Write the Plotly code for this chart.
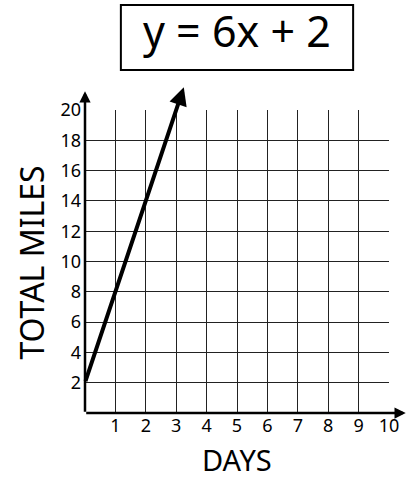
import plotly.graph_objects as go

# Line y = m*x + b, drawn from the y-intercept with an arrow past the top of the grid
slope = 6
intercept = 2
x_start = 0
x_end = 3.25

x_ticks = [1, 2, 3, 4, 5, 6, 7, 8, 9, 10]
y_ticks = [2, 4, 6, 8, 10, 12, 14, 16, 18, 20]

equation_text = "y = 6x + 2"
x_title = "DAYS"
y_title = "TOTAL MILES"

FONT = "Noto Sans"

y_start = slope * x_start + intercept
y_end = slope * x_end + intercept

fig = go.Figure()
# invisible trace so the axes are created
fig.add_trace(go.Scatter(x=[0, 10], y=[0, 20], mode="markers",
                         marker=dict(opacity=0), hoverinfo="skip", showlegend=False))

fig.update_layout(
    width=413, height=481,
    margin=dict(l=85, r=24, t=110, b=68),
    paper_bgcolor="white", plot_bgcolor="white",
    font=dict(family=FONT, color="black"),
    showlegend=False,
)

fig.update_xaxes(
    range=[0, 10], tickvals=x_ticks, ticktext=[str(v) for v in x_ticks],
    showgrid=True, gridcolor="#222", gridwidth=1,
    showline=False, zeroline=False, ticks="",
    tickfont=dict(size=18, family=FONT), ticklabelstandoff=0,
    fixedrange=True,
)
fig.update_yaxes(
    range=[0, 20], tickvals=y_ticks, ticktext=[str(v) for v in y_ticks],
    showgrid=True, gridcolor="#222", gridwidth=1,
    showline=False, zeroline=False, ticks="",
    tickfont=dict(size=18, family=FONT), ticklabelstandoff=3,
    fixedrange=True,
)

annotations = []
# y axis with arrow
annotations.append(dict(xref="paper", yref="paper", axref="pixel", ayref="pixel",
                        x=0, y=1.062, ax=0, ay=322, text="", showarrow=True,
                        arrowhead=2, arrowsize=0.9, arrowwidth=2.5, arrowcolor="black",
                        standoff=0))
# x axis with arrow
annotations.append(dict(xref="paper", yref="paper", axref="pixel", ayref="pixel",
                        x=1.055, y=0, ax=-321, ay=0, text="", showarrow=True,
                        arrowhead=2, arrowsize=0.9, arrowwidth=2.5, arrowcolor="black",
                        standoff=0))
# the equation line
annotations.append(dict(xref="x", yref="y", axref="x", ayref="y",
                        x=x_end, y=y_end, ax=x_start, ay=y_start, text="",
                        showarrow=True, arrowhead=2, arrowsize=0.9, arrowwidth=4,
                        arrowcolor="black", standoff=0))
# equation box text
annotations.append(dict(xref="paper", yref="paper", x=0.5, y=1.262,
                        text=equation_text, showarrow=False,
                        font=dict(size=43, family=FONT, color="black"),
                        xanchor="center", yanchor="middle"))
# axis titles
annotations.append(dict(xref="paper", yref="paper", x=0.5, y=-0.2244,
                        text=x_title, showarrow=False,
                        font=dict(size=29, family=FONT, color="black"),
                        xanchor="center", yanchor="bottom"))
annotations.append(dict(xref="paper", yref="paper", x=-0.176, y=0.498,
                        text=y_title, showarrow=False, textangle=-90,
                        font=dict(size=32, family=FONT, color="black"),
                        xanchor="center", yanchor="middle"))
fig.update_layout(annotations=annotations)

fig.add_shape(type="rect", xref="paper", yref="paper",
              x0=0.118, x1=0.882, y0=1.132, y1=1.3465,
              line=dict(color="black", width=2), fillcolor="rgba(0,0,0,0)")

fig.write_html("out.html")
